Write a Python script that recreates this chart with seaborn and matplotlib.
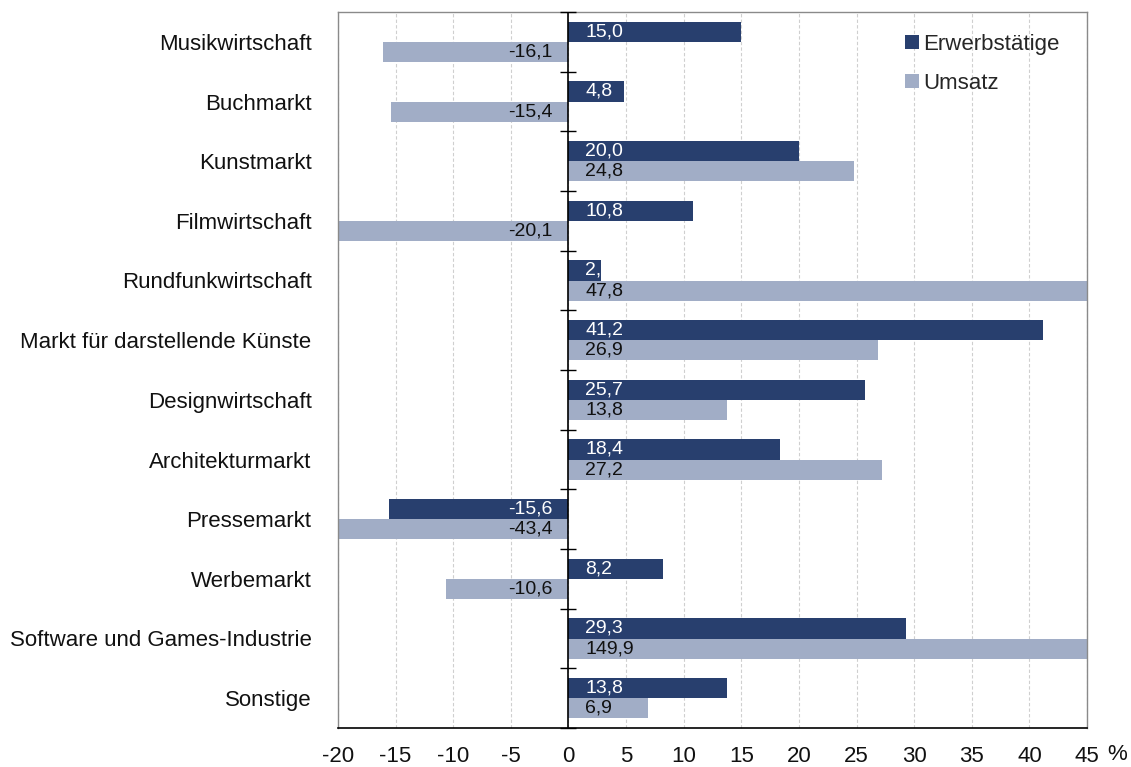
import matplotlib
matplotlib.use("Agg")
import matplotlib.pyplot as plt
import seaborn as sns
import pandas as pd
import numpy as np

categories = ["Musikwirtschaft", "Buchmarkt", "Kunstmarkt", "Filmwirtschaft",
              "Rundfunkwirtschaft", "Markt für darstellende Künste", "Designwirtschaft",
              "Architekturmarkt", "Pressemarkt", "Werbemarkt",
              "Software und Games-Industrie", "Sonstige"]
erwerb = [15.0, 4.8, 20.0, 10.8, 2.8, 41.2, 25.7, 18.4, -15.6, 8.2, 29.3, 13.8]
umsatz = [-16.1, -15.4, 24.8, -20.1, 47.8, 26.9, 13.8, 27.2, -43.4, -10.6, 149.9, 6.9]
erwerb_labels = ["15,0", "4,8", "20,0", "10,8", "2,", "41,2", "25,7", "18,4", "-15,6", "8,2", "29,3", "13,8"]
umsatz_labels = ["-16,1", "-15,4", "24,8", "-20,1", "47,8", "26,9", "13,8", "27,2", "-43,4", "-10,6", "149,9", "6,9"]
series = ["Erwerbstätige", "Umsatz"]
xticks = list(range(-20, 50, 5))

sns.set_theme(style="white")
plt.rcParams['font.family'] = ['Liberation Sans', 'DejaVu Sans']

df = pd.DataFrame({
    "Kategorie": categories * 2,
    "Wert": erwerb + umsatz,
    "Serie": [series[0]] * len(categories) + [series[1]] * len(categories),
})

fig = plt.figure(figsize=(11.31, 7.67), dpi=100)
ax = fig.add_axes([338 / 1131, 1 - 728 / 767, 749 / 1131, 716 / 767])

palette = {"Erwerbstätige": "#283f6e", "Umsatz": "#a1adc6"}
sns.barplot(data=df, x="Wert", y="Kategorie", hue="Serie", orient="h",
            palette=palette, width=0.68, ax=ax, saturation=1, linewidth=0, legend=True)

ax.set_xlim(-20, 45)
ax.set_ylim(len(categories) - 0.5, -0.5)
ax.set_xticks(xticks)
ax.set_xticklabels([str(t) for t in xticks], fontsize=16)
ax.tick_params(axis="x", direction="out", length=7, width=1, color="black", pad=6)
ax.tick_params(axis="y", length=0, labelsize=16, pad=19)
for lbl in ax.get_yticklabels():
    lbl.set_color("#111111")
for lbl in ax.get_xticklabels():
    lbl.set_color("#111111")
ax.set_xlabel("")
ax.set_ylabel("")
ax.xaxis.grid(True, color="#cfcfcf", linestyle=(0, (3, 2)), linewidth=0.8)
ax.set_axisbelow(True)
for s in ["left", "top", "right"]:
    ax.spines[s].set_color("#8a8a8a")
    ax.spines[s].set_linewidth(1)
ax.spines["bottom"].set_color("black")
ax.spines["bottom"].set_linewidth(1.2)

ax.axvline(0, color="black", linewidth=1.2, zorder=3)
bounds = np.arange(len(categories) + 1) - 0.5
ax.plot(np.zeros_like(bounds), bounds, linestyle="none", marker="_", markersize=12,
        color="black", markeredgewidth=1, zorder=4, clip_on=False)

label_sets = [erwerb_labels, umsatz_labels]
text_colors = ["white", "#111111"]
for ci, cont in enumerate(ax.containers):
    for bar, lab in zip(cont, label_sets[ci]):
        w = bar.get_width()
        yc = bar.get_y() + bar.get_height() / 2
        if w >= 0:
            t = ax.annotate(lab, xy=(0, yc), xytext=(17, 0), textcoords="offset pixels",
                            ha="left", va="center", fontsize=14,
                            color=text_colors[ci], zorder=5)
        else:
            t = ax.annotate(lab, xy=(0, yc), xytext=(-16, 0), textcoords="offset pixels",
                            ha="right", va="center", fontsize=14,
                            color=text_colors[ci], zorder=5)
        t.set_clip_path(bar)

ax.annotate("%", xy=(1, 0), xycoords="axes fraction", xytext=(20, -16),
            textcoords="offset pixels", ha="left", va="top", fontsize=16, color="#111111")

leg = ax.legend(loc="upper right", bbox_to_anchor=(0.99, 0.997), frameon=False,
                fontsize=16, handlelength=0.6, handleheight=0.6, handletextpad=0.2,
                labelspacing=0.8)

fig.savefig("out.png", dpi=100)
